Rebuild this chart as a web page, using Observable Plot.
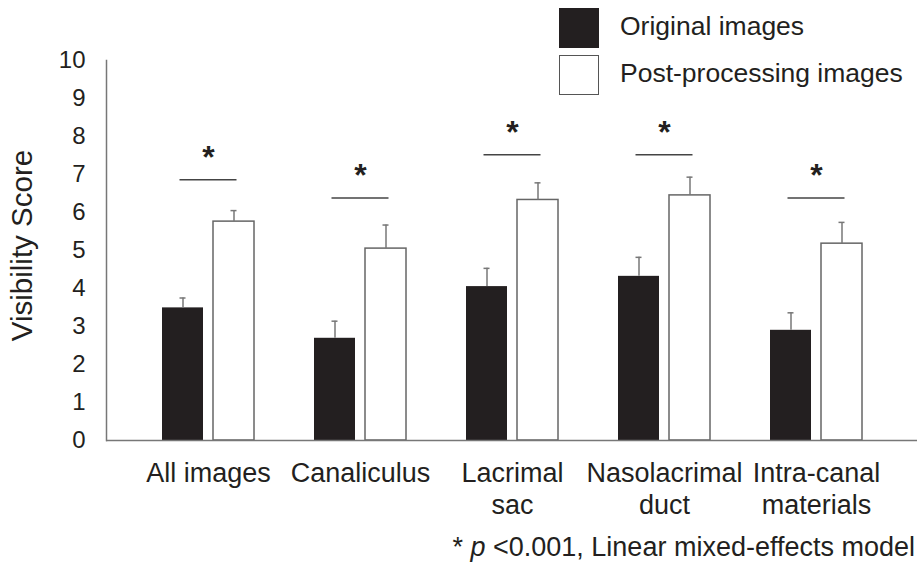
<!DOCTYPE html>
<html>
<head>
<meta charset="utf-8">
<script src="https://cdn.jsdelivr.net/npm/d3@7"></script>
<script src="https://cdn.jsdelivr.net/npm/@observablehq/plot@0.6"></script>
<style>
  html, body { margin: 0; padding: 0; background: #fff; }
  #wrap { position: relative; width: 919px; height: 576px; font-family: "Liberation Sans", Arial, sans-serif; color: #231f20; }
  #chart { position: absolute; left: 0; top: 0; }
  .legend-box { position: absolute; left: 559px; width: 40px; height: 40px; box-sizing: border-box; }
  .legend-text { position: absolute; left: 620px; font-size: 26.5px; line-height: 1; white-space: nowrap; }
  #caption { position: absolute; right: 4px; top: 534px; font-size: 27px; line-height: 1; white-space: nowrap; }
</style>
</head>
<body>
<div id="wrap">
  <div id="chart"></div>
  <div id="legend"></div>
  <div id="caption"></div>
</div>
<script>
// ---- data ----
const categories = ["All images", "Canaliculus", "Lacrimal\nsac", "Nasolacrimal\nduct", "Intra-canal\nmaterials"];
const original    = [3.49, 2.69, 4.05, 4.32, 2.90];
const originalErr = [0.26, 0.45, 0.48, 0.50, 0.46];
const post        = [5.76, 5.05, 6.33, 6.45, 5.18];
const postErr     = [0.29, 0.62, 0.45, 0.48, 0.56];
const sigLevel    = [6.86, 6.38, 7.52, 7.52, 6.38];
const sigMark     = ["*", "*", "*", "*", "*"];
const yTicks      = [0, 1, 2, 3, 4, 5, 6, 7, 8, 9, 10];
const yTitle      = ["Visibility Score"];
const seriesNames = ["Original images", "Post-processing images"];
const seriesFill  = ["#231f20", "#ffffff"];

const rows = categories.map((c, i) => ({
  category: c,
  original: original[i],
  originalTop: original[i] + originalErr[i],
  post: post[i],
  postTop: post[i] + postErr[i],
  sig: sigLevel[i],
  mark: sigMark[i]
}));

const axisColor = "#777";
const chart = Plot.plot({
  width: 919,
  height: 576,
  marginLeft: 106,
  marginRight: 2,
  marginTop: 60,
  marginBottom: 136,
  style: { fontFamily: "Liberation Sans, Arial, sans-serif", color: "#231f20", background: "transparent" },
  x: { type: "band", domain: categories, paddingInner: 0.396, paddingOuter: 0.361 },
  y: { domain: [0, 10] },
  marks: [
    Plot.barY(rows, { x: "category", y: "original", fill: seriesFill[0], insetRight: 51 }),
    Plot.barY(rows, { x: "category", y: "post", fill: seriesFill[1], stroke: "#666", strokeWidth: 1.5, insetLeft: 51 }),
    Plot.ruleX(rows, { x: "category", y1: "original", y2: "originalTop", dx: -25.5, stroke: axisColor, strokeWidth: 1.5 }),
    Plot.ruleX(rows, { x: "category", y1: "post", y2: "postTop", dx: 25.5, stroke: axisColor, strokeWidth: 1.5 }),
    Plot.tickY(rows, { x: "category", y: "originalTop", insetLeft: 17.5, insetRight: 68.5, stroke: axisColor, strokeWidth: 1.5 }),
    Plot.tickY(rows, { x: "category", y: "postTop", insetLeft: 68.5, insetRight: 17.5, stroke: axisColor, strokeWidth: 1.5 }),
    Plot.tickY(rows, { x: "category", y: "sig", insetLeft: 17.5, insetRight: 17.5, stroke: "#444", strokeWidth: 1.5 }),
    Plot.text(rows, { x: "category", y: "sig", text: "mark", dy: -22, fontSize: 32, fontWeight: "bold", fill: "#231f20" }),
    Plot.ruleY([0], { stroke: axisColor, strokeWidth: 1.5 }),
    Plot.frame({ anchor: "left", stroke: axisColor, strokeWidth: 1.5 }),
    Plot.axisY({ ticks: yTicks, tickSize: 0, tickPadding: 21, fontSize: 24, label: null, tickFormat: d => String(d) }),
    Plot.axisX({ tickSize: 0, tickPadding: 19, fontSize: 27, lineHeight: 1.18, label: null }),
    Plot.text(yTitle, { frameAnchor: "left", textAnchor: "middle", rotate: -90, dx: -84, dy: -5, fontSize: 29.5, fill: "#231f20" })
  ]
});
document.getElementById("chart").appendChild(chart);

// ---- legend ----
const legend = document.getElementById("legend");
const boxTops = [8, 55];
const textTops = [13, 60];
seriesNames.forEach((name, i) => {
  const box = document.createElement("div");
  box.className = "legend-box";
  box.style.top = boxTops[i] + "px";
  box.style.background = seriesFill[i];
  box.style.border = i === 0 ? "1px solid #231f20" : "1.5px solid #555";
  legend.appendChild(box);
  const t = document.createElement("div");
  t.className = "legend-text";
  t.style.top = textTops[i] + "px";
  t.textContent = name;
  legend.appendChild(t);
});

// ---- caption ----
document.getElementById("caption").innerHTML = "* <i>p</i> &lt;0.001, Linear mixed-effects model";
</script>
</body>
</html>
